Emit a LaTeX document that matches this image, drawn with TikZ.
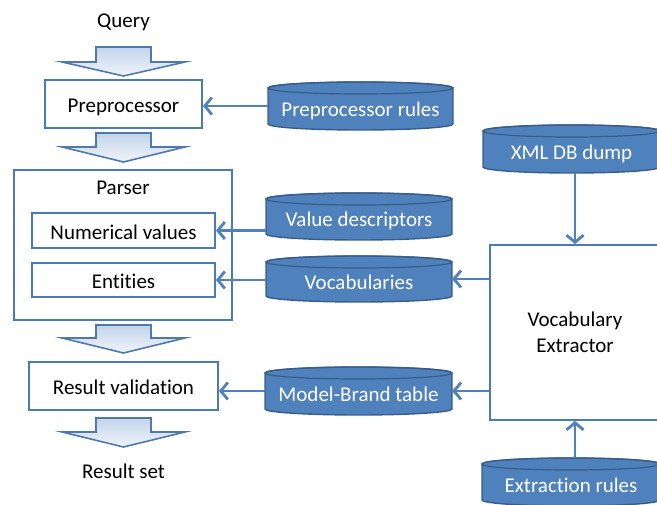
\documentclass[tikz,border=0pt]{standalone}
\usepackage{fontspec}
\setmainfont{Carlito}[Ligatures=NoCommon]
\usetikzlibrary{arrows.meta}
\definecolor{acc}{HTML}{4F81BD}
\definecolor{accd}{HTML}{385D8A}
\definecolor{boxline}{HTML}{4A7BB5}
\definecolor{barline}{HTML}{5079AA}
\definecolor{bartop}{HTML}{C3D4EA}
\definecolor{barbot}{HTML}{F0F4FA}
\tikzset{
  plain/.style={font=\fontsize{21}{26}\selectfont, text=black, inner sep=0pt},
  procbox/.style={plain, draw=boxline, line width=2pt, fill=white, text height=19pt, text depth=1pt},
  dbtext/.style={font=\fontsize{21}{26}\selectfont, text=white, inner sep=0pt, text height=22pt, text depth=1pt},
  conn/.style={draw=acc, line width=2.8pt, -{Straight Barb[length=7pt,width=17pt,line width=2.8pt]}},
  blockarr/.style={draw=barline, line width=1.6pt, top color=bartop, bottom color=barbot},
}
\newcommand\dbcyl[6]{%
  \path[fill=acc, draw=accd, line width=1.4pt]
    ({#2-#4/2},{-#3+#5/2-6}) -- ({#2-#4/2},{-#3-#5/2+6})
    arc[start angle=180,end angle=360,x radius={#4/2},y radius=6]
    -- ({#2+#4/2},{-#3+#5/2-6})
    arc[start angle=0,end angle=180,x radius={#4/2},y radius=6] -- cycle;
  \draw[accd, line width=1.2pt] (#2,{-#3+#5/2-6}) ellipse[x radius={#4/2}, y radius=6];
  \node[dbtext, minimum width=#4pt, minimum height=#5pt] (#1) at (#2,-#3) {#6};
}
\newcommand\blockarrow[3]{%
  \path[blockarr] (96,-#1) -- (151,-#1) -- (151,-#2) -- (185,-#2) -- (123.5,-#3)
    -- (62,-#2) -- (96,-#2) -- cycle;
}
\begin{document}
\begin{tikzpicture}[x=1pt,y=1pt]
\useasboundingbox (0,0) rectangle (657,-505);
\clip (0,0) rectangle (657,-505);

% left column
\node[plain] (query) at (123.5,-22) {Query};
\blockarrow{47}{62}{76}
\node[procbox, minimum width=157pt, minimum height=48pt] (pre) at (123.5,-104) {Preprocessor};
\blockarrow{133}{147}{162}
\node[draw=boxline, line width=2pt, fill=white, minimum width=218pt, minimum height=150pt, inner sep=0pt] (parser) at (123,-245) {};
\node[plain] (parserlbl) at (123,-188) {Parser};
\node[procbox, minimum width=183pt, minimum height=35pt] (num) at (123.5,-230.5) {Numerical values};
\node[procbox, minimum width=183pt, minimum height=34pt] (ent) at (123.5,-280) {Entities};
\blockarrow{325}{338}{353}
\node[procbox, minimum width=189pt, minimum height=48pt] (rv) at (123.5,-386) {Result validation};
\blockarrow{418}{432}{447}
\node[plain] (rset) at (123.5,-471) {Result set};

% databases
\dbcyl{pr}{360.5}{106}{185}{48}{Preprocessor rules}
\dbcyl{vd}{359}{216.5}{186}{47}{Value descriptors}
\dbcyl{voc}{359}{279}{186}{46}{Vocabularies}
\dbcyl{mb}{358.5}{391}{187}{48}{Model-Brand table}
\dbcyl{xml}{571.5}{149}{177}{48}{XML DB dump}
\dbcyl{er}{571}{482}{178}{48}{Extraction rules}

% vocabulary extractor
\node[plain, draw=boxline, line width=2pt, fill=white, align=center, minimum width=170pt, minimum height=175pt] (ve) at (575,-332.5) {Vocabulary\\Extractor};

% connectors
\draw[conn] (pr.west) -- (pr.west -| pre.east);
\draw[conn] (vd.west |- num.east) -- (num.east);
\draw[conn] (voc.west |- ent.east) -- (ent.east);
\draw[conn] (ve.west |- voc.east) -- (voc.east);
\draw[conn] (mb.west) -- (mb.west -| rv.east);
\draw[conn] (ve.west |- mb.east) -- (mb.east);
\draw[conn] (ve.north |- xml.south) -- (ve.north);
\draw[conn] (ve.south |- er.north) -- (ve.south);
\end{tikzpicture}
\end{document}
